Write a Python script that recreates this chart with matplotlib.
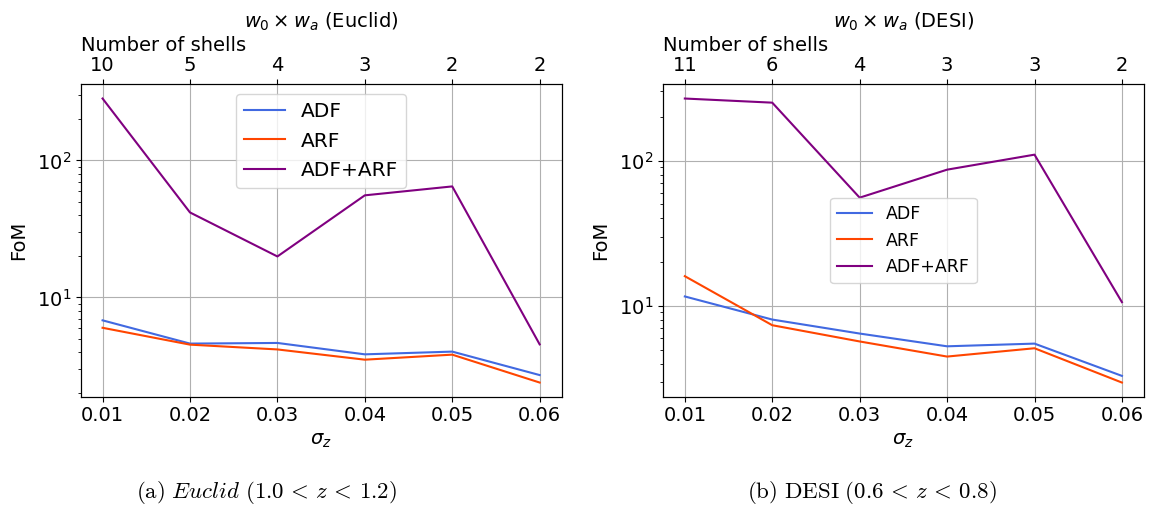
import matplotlib
matplotlib.use("Agg")
import matplotlib.pyplot as plt

# sigma_z values and number of shells on the top axis
sigma_z = [0.01, 0.02, 0.03, 0.04, 0.05, 0.06]
euclid_shells = ['10', '5', '4', '3', '2', '2']
desi_shells = ['11', '6', '4', '3', '3', '2']

# FoM
euclid_adf = [6.8, 4.6, 4.65, 3.84, 4.02, 2.71]
euclid_arf = [6.0, 4.52, 4.17, 3.51, 3.82, 2.39]
euclid_both = [283, 41.7, 19.9, 55.6, 64.6, 4.54]

desi_adf = [11.6, 8.04, 6.44, 5.26, 5.49, 3.29]
desi_arf = [16.0, 7.35, 5.68, 4.47, 5.1, 2.96]
desi_both = [268, 251, 55.6, 86.7, 110, 10.6]


def panel(ax, adf, arf, both, shells, survey, legend_loc, legend_size):
    ax.plot(sigma_z, adf, color='royalblue', label='ADF')
    ax.plot(sigma_z, arf, color='orangered', label='ARF')
    ax.plot(sigma_z, both, color='purple', label='ADF+ARF')
    ax.set_yscale('log')
    ax.set_xticks(sigma_z)
    ax.set_xticklabels([f'{s:.2f}' for s in sigma_z])
    ax.tick_params(labelsize=14)
    ax.grid(True)
    ax.set_xlabel(r'$\sigma_z$', fontsize=14)
    ax.set_ylabel('FoM', fontsize=14, labelpad=6)
    ax.legend(loc=legend_loc, fontsize=legend_size)

    top = ax.twiny()
    top.set_xlim(ax.get_xlim())
    top.set_xticks(sigma_z)
    top.set_xticklabels(shells)
    top.tick_params(labelsize=14)
    top.set_xlabel('Number of shells', fontsize=14, loc='left', labelpad=3)
    top.set_title(r'$w_0 \times w_a$ (' + survey + ')', fontsize=14, pad=6)


fig = plt.figure(figsize=(11.53, 5.08), dpi=100)
ax1 = fig.add_axes([0.070, 0.219, 0.417, 0.615])
ax2 = fig.add_axes([0.575, 0.219, 0.417, 0.615])

panel(ax1, euclid_adf, euclid_arf, euclid_both, euclid_shells, 'Euclid', 'upper center', 14.5)
panel(ax2, desi_adf, desi_arf, desi_both, desi_shells, 'DESI', 'center', 12.5)

fig.text(0.231, 0.030, r'$\mathrm{(a)}\ \mathit{Euclid}\ (1.0\,<\,z\,<\,1.2)$',
         ha='center', va='center', fontsize=16.5, math_fontfamily='cm')
fig.text(0.756, 0.030, r'$\mathrm{(b)\ DESI}\ (0.6\,<\,z\,<\,0.8)$',
         ha='center', va='center', fontsize=16.5, math_fontfamily='cm')

fig.savefig('out.png', dpi=100)
